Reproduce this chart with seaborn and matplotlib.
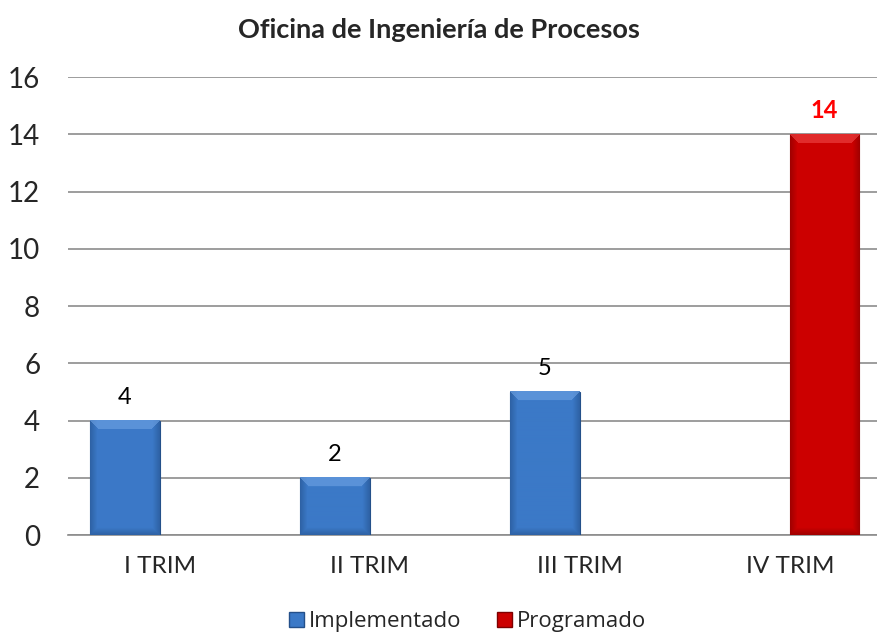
import pandas as pd
import numpy as np
import matplotlib.pyplot as plt
import seaborn as sns
from matplotlib.patches import Patch
from matplotlib.colors import to_rgb

#Chart values
trimestres = ['I TRIM', 'II TRIM', 'III TRIM', 'IV TRIM']
implementado = [4, 2, 5, None]
programado = [None, None, None, 14]
series = ['Implementado', 'Programado']
titulo = 'Oficina de Ingeniería de Procesos'

#Long table for seaborn, leaving out the empty cells
rows = []
for t, v in zip(trimestres, implementado):
    if v is not None:
        rows.append({'trim': t, 'serie': 'Implementado', 'valor': v})
for t, v in zip(trimestres, programado):
    if v is not None:
        rows.append({'trim': t, 'serie': 'Programado', 'valor': v})
df = pd.DataFrame(rows)

sns.set_style('white')
plt.rcParams['font.family'] = ['Lato', 'DejaVu Sans']

colores = {'Implementado': '#3B79C7', 'Programado': '#CC0000'}
claros = {'Implementado': '#6FA3E4', 'Programado': '#F04848'}
oscuros = {'Implementado': '#24508A', 'Programado': '#7E0000'}

fig = plt.figure(figsize=(8.77, 6.37), dpi=100)
ax = fig.add_axes([68 / 877, 0.1601, 1 - 68 / 877, 0.8791 - 0.1601])

sns.barplot(data=df, x='trim', y='valor', hue='serie', order=trimestres,
            hue_order=series, palette=colores, width=0.662, dodge=True,
            saturation=1, legend=False, ax=ax, zorder=3)

ax.set_xlim(-0.437, 3.415)
ax.set_ylim(0, 16)

#Bevel look: paint each bar with a shaded image built from its own size
fig.canvas.draw()
for cont, s in zip(ax.containers, series):
    base = np.array(to_rgb(colores[s]))
    light = np.array(to_rgb(claros[s]))
    dark = np.array(to_rgb(oscuros[s]))
    for bar in cont:
        bb = bar.get_window_extent()
        wp, hp = int(round(bb.width)), int(round(bb.height))
        if wp < 2 or hp < 2:
            continue
        yy, xx = np.mgrid[0:hp, 0:wp]
        side = np.minimum(xx, wp - 1 - xx)
        bottom = hp - 1 - yy
        img = np.tile(base, (hp, wp, 1))
        #darker rim on the sides and bottom
        rim = np.clip(1 - np.minimum(side, bottom) / 7.0, 0, 1)[..., None]
        img = img * (1 - 0.55 * rim) + dark * 0.55 * rim
        #lighter bevel at the top
        top = ((yy < 9) & (yy <= side)).astype(float)[..., None]
        img = img * (1 - 0.6 * top) + light * 0.6 * top
        x0 = bar.get_x()
        ax.imshow(img, extent=(x0, x0 + bar.get_width(), 0, bar.get_height()),
                  aspect='auto', zorder=4, interpolation='bilinear')
        bar.set_edgecolor(oscuros[s])
        bar.set_linewidth(0.8)

ax.set_xlim(-0.437, 3.415)
ax.set_ylim(0, 16)

#Value labels above the bars
ax.bar_label(ax.containers[0], fmt='%g', padding=9, fontsize=17, color='black')
ax.bar_label(ax.containers[1], fmt='%g', padding=9, fontsize=17,
             color='#FF0000', fontweight='bold')

ax.set_yticks(np.arange(0, 17, 2))
ax.yaxis.grid(True, color='#8C8C8C', linewidth=1.2, zorder=0)
ax.set_axisbelow(True)
for side in ['top', 'right', 'left']:
    ax.spines[side].set_visible(False)
ax.spines['bottom'].set_color('#8C8C8C')
ax.spines['bottom'].set_linewidth(1.2)
ax.tick_params(axis='y', length=0, pad=20, labelsize=20)
ax.tick_params(axis='x', length=0, pad=15, labelsize=17.5)
ax.set_xlabel('')
ax.set_ylabel('')

fig.suptitle(titulo, x=0.5, y=0.972, fontsize=19.5, fontweight='bold')

#Legend with small square keys at the bottom
handles = [Patch(facecolor=colores[s], edgecolor=oscuros[s], label=s) for s in series]
fig.legend(handles=handles, loc='center', bbox_to_anchor=(0.533, 0.024), ncol=2,
           frameon=False, handlelength=0.7, handleheight=0.7, handletextpad=0.2,
           columnspacing=1.6, prop={'family': 'Open Sans', 'size': 16})

plt.savefig('out.png', dpi=100)
